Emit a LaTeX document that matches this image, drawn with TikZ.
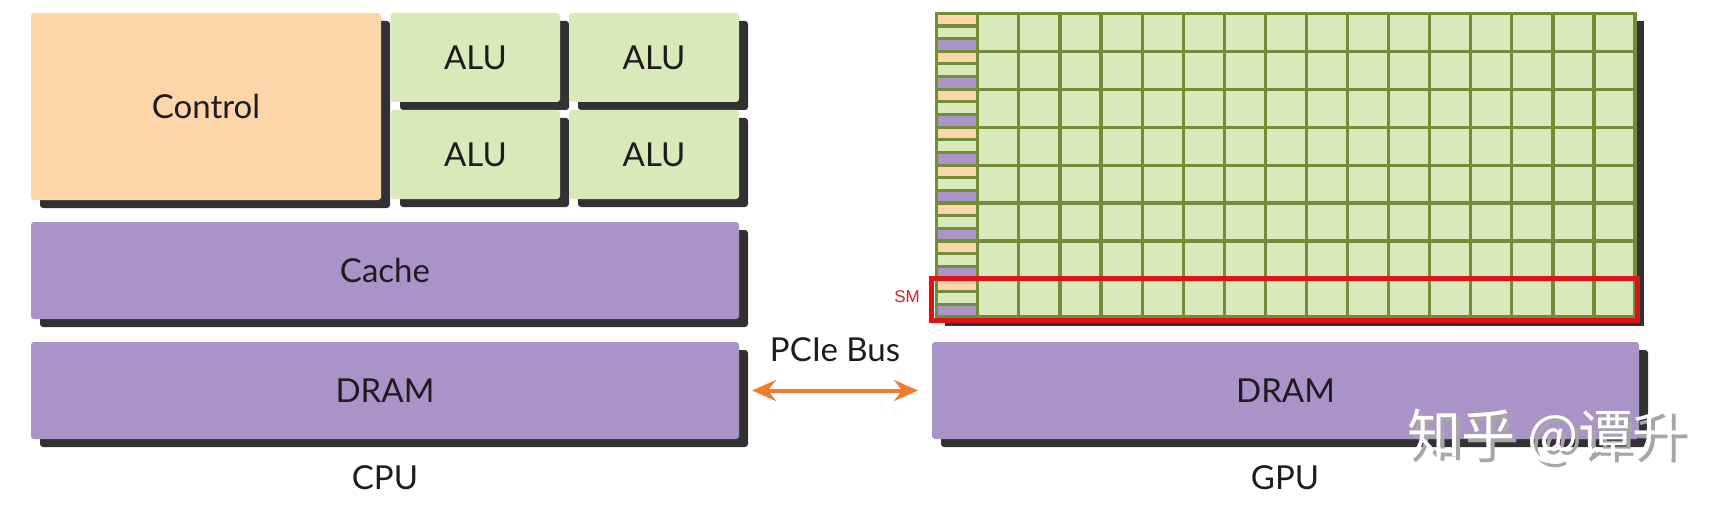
\documentclass[tikz,border=0pt]{standalone}
\usepackage{fontspec}
\setmainfont{Lato}
\newfontfamily\cjkfont{Noto Sans CJK SC}
\newfontfamily\arialfont{Liberation Sans}
\usetikzlibrary{arrows.meta,shadows}
\definecolor{ctrlorange}{RGB}{252,213,168}
\definecolor{alugreen}{RGB}{216,234,186}
\definecolor{mempurple}{RGB}{170,147,198}
\definecolor{shgray}{RGB}{50,50,50}
\definecolor{gridolive}{RGB}{115,140,58}
\definecolor{txtdark}{RGB}{30,28,30}
\definecolor{busorange}{RGB}{237,125,49}
\definecolor{smred}{RGB}{220,20,20}
\definecolor{smtext}{RGB}{215,30,40}
\tikzset{
  cpubox/.style={anchor=north west, inner sep=0pt, outer sep=0pt, rounded corners=3pt,
    font=\fontsize{33}{36}\selectfont, text=txtdark,
    drop shadow={shadow xshift=9pt, shadow yshift=-8pt, fill=shgray, opacity=1}},
  lbl/.style={font=\fontsize{33}{36}\selectfont, text=txtdark, inner sep=0pt},
  gridline/.style={draw=gridolive, line width=3.2pt},
  bus/.style={draw=busorange, line width=4pt, {Stealth[length=24pt,width=21pt,inset=8pt]}-{Stealth[length=24pt,width=21pt,inset=8pt]}, shorten <=13pt, shorten >=14pt},
  wmtext/.style={font=\cjkfont\fontsize{54}{60}\selectfont, inner sep=0pt}
}
\begin{document}
\begin{tikzpicture}[x=1pt,y=-1pt]
\useasboundingbox (0,0) rectangle (1728,508);

% CPU side
\node[cpubox, fill=ctrlorange, minimum width=350pt, minimum height=187pt] (ctrl) at (31,13) {Control};
\node[cpubox, fill=alugreen, minimum width=169pt, minimum height=89pt] (alu1) at (391,13) {ALU};
\node[cpubox, fill=alugreen, minimum width=170pt, minimum height=89pt] (alu2) at (569,13) {ALU};
\node[cpubox, fill=alugreen, minimum width=169pt, minimum height=89pt] (alu3) at (391,110) {ALU};
\node[cpubox, fill=alugreen, minimum width=170pt, minimum height=89pt] (alu4) at (569,110) {ALU};
\node[cpubox, fill=mempurple, minimum width=708pt, minimum height=97pt] (cache) at (31,222) {Cache};
\node[cpubox, fill=mempurple, minimum width=708pt, minimum height=97pt] (dram1) at (31,342) {DRAM};
\node[lbl] (cpu) at (385,478) {CPU};

% GPU side
\node[cpubox, fill=mempurple, minimum width=707pt, minimum height=97pt] (dram2) at (932,342) {DRAM};
\node[lbl] (gpu) at (1285,478) {GPU};

% GPU grid
\fill[shgray] (945,21) rectangle (1644,326);
\fill[alugreen] (936.7,13.3) rectangle (1635,317);
\foreach \r in {0,...,7} {
  \fill[ctrlorange] (936.7,{13.3+\r*37.95}) rectangle (977.8,{13.3+\r*37.95+12.65});
  \fill[alugreen] (936.7,{13.3+\r*37.95+12.65}) rectangle (977.8,{13.3+\r*37.95+25.3});
  \fill[mempurple] (936.7,{13.3+\r*37.95+25.3}) rectangle (977.8,{13.3+\r*37.95+37.95});
}
\foreach \k in {0,...,24} {
  \draw[gridline] (936.7,{13.3+\k*12.65}) -- (977.8,{13.3+\k*12.65});
}
\foreach \r in {0,...,8} {
  \draw[gridline, line cap=rect] (936.7,{13.3+\r*37.95}) -- (1635,{13.3+\r*37.95});
}
\foreach \i in {0,...,17} {
  \draw[gridline, line cap=rect] ({936.7+\i*41.08},13.3) -- ({936.7+\i*41.08},317);
}

% SM highlight
\draw[draw=smred, line width=5pt] (931,278) rectangle (1637.5,320);
\node[font=\arialfont\fontsize{17}{20}\selectfont, text=smtext, inner sep=0pt] (sm) at (907,297) {SM};

% PCIe bus
\draw[bus] (dram1.east) -- (dram2.west);
\node[lbl] (pcie) at (835,350) {PCIe Bus};

% watermark (white text with a grey drop shadow, in one node)
\node[wmtext, text=white] (wm) at (1547,438) {\makebox[0pt][l]{\hspace{4pt}\raisebox{-4pt}{\color{black!35}知乎 @谭升}}知乎 @谭升};
\end{tikzpicture}
\end{document}
